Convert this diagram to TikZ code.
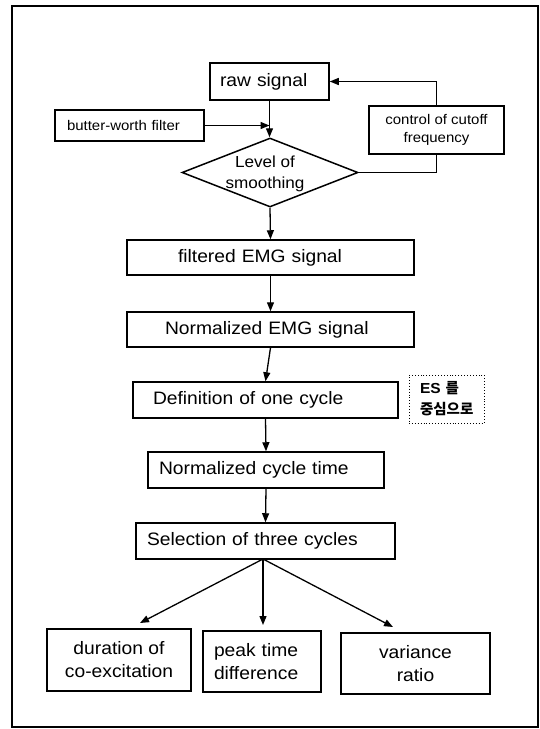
\documentclass[tikz,border=0pt]{standalone}
\usepackage{fontspec}
\setmainfont{Liberation Sans}[FakeStretch=1.07]
\newfontfamily\kor{Noto Sans CJK KR}
\usetikzlibrary{arrows.meta,shapes.geometric}
\begin{document}
\begin{tikzpicture}[x=1pt,y=-1pt,
  big/.style={font=\fontsize{18}{23}\selectfont},
  small/.style={font=\fontsize{14}{18}\selectfont},
  box/.style={draw, line width=1.5pt, inner ysep=0pt, big},
  lbox/.style n args={2}{box, align=left, text width=#1pt, inner xsep=#2pt},
  conn/.style={line width=1.3pt},
  arr/.style={conn, -{Triangle[length=9pt,width=7pt]}}
]
\useasboundingbox (0,0) rectangle (540,729);
\draw[line width=1.4pt] (12,6) rectangle (538,727);

% top part
\node[lbox={99}{10}, minimum height=37pt] (raw) at (269.5,81.5) {raw signal};
\node[lbox={125}{12}, small, minimum height=31pt] (butter) at (129.5,125.5) {butter-worth filter};
\node[draw, line width=1.5pt, diamond, aspect=2.55, inner sep=0pt,
      minimum width=176pt, minimum height=69pt] (dia) at (270,172.5) {};
\node[font=\fontsize{16}{21}\selectfont, align=center] (diatext) at (265,173.5) {Level of\\smoothing};
\node[box, small, align=center, minimum width=135pt, minimum height=48pt] (ctrl) at (436.5,130)
  {control of cutoff\\frequency};

% main chain
\node[lbox={185}{51}, minimum height=35pt] (filt) at (270.5,257.5) {filtered EMG signal};
\node[lbox={211}{38}, minimum height=35pt] (norm) at (270.5,329.5) {Normalized EMG signal};
\node[lbox={225}{20}, minimum height=36pt] (def) at (265.5,400) {Definition of one cycle};
\node[draw, dotted, line width=0.9pt, align=left, text width=53pt, inner xsep=11pt,
      minimum height=48pt, font=\fontsize{14.5}{21}\selectfont] (es) at (446.5,399)
  {\textbf{ES} {\kor\bfseries 를}\\{\kor\bfseries 중심으로}};
\node[lbox={214}{11}, minimum height=36pt] (cyc) at (266,470) {Normalized cycle time};
\node[lbox={237}{11}, minimum height=36pt] (sel) at (265.5,541) {Selection of three cycles};

% bottom boxes
\node[box, align=center, minimum width=144pt, minimum height=62pt] (dur) at (119,660)
  {duration of\\co-excitation};
\node[lbox={96}{11}, minimum height=61pt] (peak) at (262,661.5) {peak time\\difference};
\node[box, align=center, minimum width=149pt, minimum height=61pt] (var) at (415.5,663.5)
  {variance\\ratio};

\coordinate (t1) at (140,623);
\coordinate (t2) at (263,625);
\coordinate (t3) at (393,627);
\coordinate (split) at (263,559);

% connectors
\draw[arr] (raw.south) -- (raw.south |- dia.north);
\draw[arr] (butter.east) -- (butter.east -| raw.south);
\draw[conn] (dia.east) -- (dia.east -| ctrl.south) -- (ctrl.south);
\draw[arr] (ctrl.north) |- (raw.east);
\draw[arr] (dia.south) -- (filt.north);
\draw[arr] (filt.south) -- (norm.north);
\draw[arr] (norm.south) -- (def.north);
\draw[arr] (def.south) -- (cyc.north);
\draw[arr] (cyc.south) -- (sel.north);
\draw[arr] (split) -- (t1);
\draw[arr] (split) -- (t2);
\draw[arr] (split) -- (t3);
\end{tikzpicture}
\end{document}
